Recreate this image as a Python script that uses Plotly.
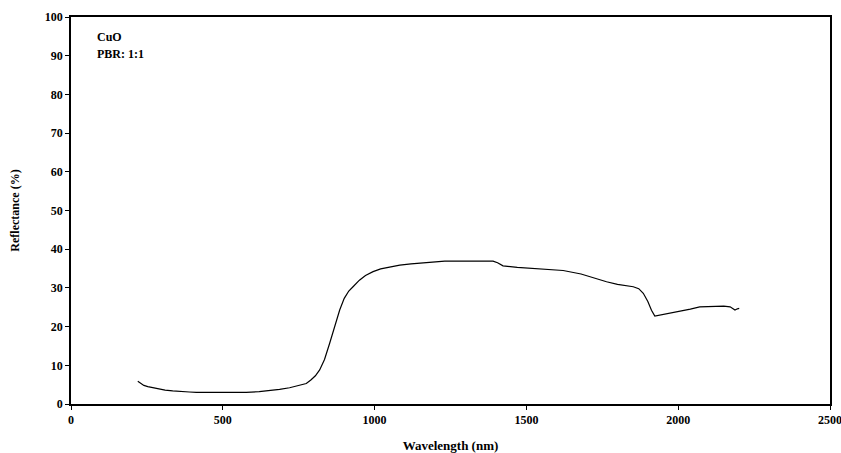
import plotly.graph_objects as go

wavelength = [220, 230, 240, 253, 270, 290, 310, 335, 360, 390, 413, 450, 500, 550, 577,
              620, 660, 687, 720, 750, 775, 790, 805, 819, 835, 852, 868, 885, 900, 915,
              929, 950, 970, 995, 1020, 1050, 1083, 1120, 1148, 1190, 1231, 1280, 1330,
              1390, 1405, 1423, 1470, 1520, 1570, 1621, 1680, 1720, 1764, 1800, 1830,
              1852, 1870, 1885, 1900, 1912, 1923, 1950, 1980, 2006, 2040, 2071, 2100,
              2127, 2150, 2171, 2187, 2195, 2201]
reflectance = [5.9, 5.3, 4.8, 4.5, 4.2, 3.9, 3.6, 3.4, 3.2, 3.1, 3.0, 3.0, 3.0, 3.0, 3.0,
               3.2, 3.5, 3.8, 4.2, 4.7, 5.3, 6.2, 7.3, 8.8, 11.5, 15.7, 20.0, 24.3, 27.3, 29.2,
               30.3, 32.0, 33.2, 34.2, 34.9, 35.4, 35.9, 36.2, 36.4, 36.6, 36.9, 36.9, 36.9,
               36.9, 36.5, 35.7, 35.3, 35.0, 34.8, 34.5, 33.6, 32.6, 31.6, 30.9, 30.5,
               30.3, 29.8, 28.6, 26.5, 24.2, 22.7, 23.1, 23.6, 24.1, 24.5, 25.1, 25.2,
               25.4, 25.3, 25.1, 24.3, 24.6, 24.7]

x_ticks = [0, 500, 1000, 1500, 2000, 2500]
y_ticks = [0, 10, 20, 30, 40, 50, 60, 70, 80, 90, 100]
x_title = "Wavelength (nm)"
y_title = "Reflectance (%)"
notes = ["CuO", "PBR: 1:1"]

font_family = "Liberation Serif, Times New Roman, serif"

fig = go.Figure()
fig.add_trace(go.Scatter(x=wavelength, y=reflectance, mode="lines",
                         line=dict(color="black", width=1.2), showlegend=False))

axis_common = dict(showline=True, linecolor="black", linewidth=1.5, mirror=True,
                   showgrid=False, zeroline=False, ticks="outside", ticklen=4,
                   tickcolor="black", tickwidth=1, automargin=False,
                   ticklabeloverflow="allow",
                   tickfont=dict(family=font_family, size=12, color="black", weight="bold"))

fig.update_xaxes(range=[0, 2500], tickvals=x_ticks, ticktext=[str(v) for v in x_ticks],
                 title=dict(text="<b>" + x_title + "</b>", standoff=17,
                            font=dict(family=font_family, size=13, color="black")),
                 **axis_common)
fig.update_yaxes(range=[0, 100], tickvals=y_ticks, ticktext=[str(v) for v in y_ticks],
                 title=dict(text="<b>" + y_title + "</b>", standoff=23,
                            font=dict(family=font_family, size=12, color="black")),
                 **axis_common)

for i, t in enumerate(notes):
    fig.add_annotation(x=0.031, y=0.949 - i * 0.0445, xref="paper", yref="paper",
                       text="<b>" + t + "</b>", showarrow=False, xanchor="left",
                       yanchor="middle",
                       font=dict(family=font_family, size=12, color="black"))

fig.update_layout(width=841, height=453, margin=dict(l=71, r=11, t=17, b=49),
                  plot_bgcolor="white", paper_bgcolor="white")

fig.write_html("out.html")
